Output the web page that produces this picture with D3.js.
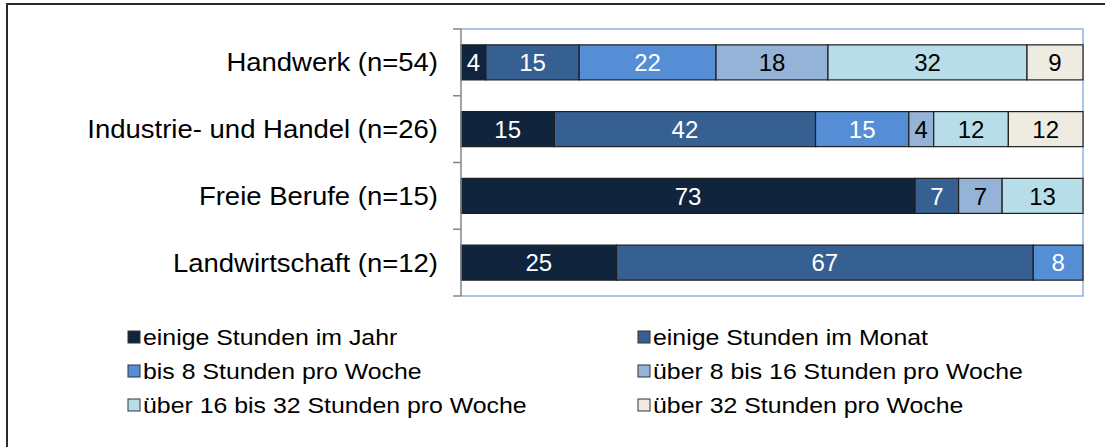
<!DOCTYPE html>
<html>
<head>
<meta charset="utf-8">
<script src="https://cdn.jsdelivr.net/npm/d3@7"></script>
<style>
	body { margin: 0; background: #fff; }
	text { font-family: "Liberation Sans", Arial, sans-serif; }
</style>
</head>
<body>
<script>
	'use strict';

	// categories (top to bottom)
	var categories = ["Handwerk (n=54)", "Industrie- und Handel (n=26)", "Freie Berufe (n=15)", "Landwirtschaft (n=12)"];

	// series, in stacking order
	var seriesNames = [
		"einige Stunden im Jahr",
		"einige Stunden im Monat",
		"bis 8 Stunden pro Woche",
		"über 8 bis 16 Stunden pro Woche",
		"über 16 bis 32 Stunden pro Woche",
		"über 32 Stunden pro Woche"
	];
	var seriesColors = ["#10243e", "#366092", "#558ed5", "#95b3d7", "#b7dee8", "#eeece1"];
	var labelColors  = ["#fff", "#fff", "#fff", "#000", "#000", "#000"];

	// percent values per category, one array per series
	var jahr      = [4, 15, 73, 25];
	var monat     = [15, 42, 7, 67];
	var bis8      = [22, 15, 0, 8];
	var bis16     = [18, 4, 7, 0];
	var bis32     = [32, 12, 13, 0];
	var ueber32   = [9, 12, 0, 0];
	var seriesValues = [jahr, monat, bis8, bis16, bis32, ueber32];

	var width = 1105, height = 447;
	var plot = { left: 461, right: 1083, top: 29, bottom: 296 };

	var svg = d3.select("body").append("svg")
		.attr("width", width)
		.attr("height", height);

	// outer frame
	svg.append("rect")
		.attr("x", 7).attr("y", 4)
		.attr("width", width + 20).attr("height", height + 20)
		.attr("fill", "none")
		.attr("stroke", "#2a2a2a")
		.attr("stroke-width", 2);

	// scales
	var x = d3.scaleLinear().domain([0, 100]).range([plot.left, plot.right]);
	var y = d3.scaleBand().domain(categories).range([plot.top, plot.bottom])
		.paddingInner(0.475).paddingOuter(0.2375);

	// plot area border (light blue top/right/bottom)
	svg.append("path")
		.attr("d", "M" + plot.left + "," + plot.top + "H" + plot.right + "V" + plot.bottom + "H" + plot.left)
		.attr("fill", "none")
		.attr("stroke", "#8db3e2")
		.attr("stroke-width", 1.5);

	// stack data
	var rows = categories.map(function(c, i) {
		var r = { cat: c };
		seriesNames.forEach(function(s, j) { r[s] = seriesValues[j][i]; });
		return r;
	});
	var stacked = d3.stack().keys(seriesNames)(rows);

	var layers = svg.selectAll(".layer")
		.data(stacked)
		.enter().append("g")
		.attr("class", "layer");

	// segments and their value labels
	layers.each(function(layer, li) {
		var segs = layer.filter(function(p) { return p[1] > p[0]; });
		var g = d3.select(this);

		g.selectAll("rect")
			.data(segs)
			.enter().append("rect")
			.attr("x", function(d) { return x(d[0]); })
			.attr("y", function(d) { return y(d.data.cat); })
			.attr("width", function(d) { return x(d[1]) - x(d[0]); })
			.attr("height", y.bandwidth())
			.attr("fill", seriesColors[li])
			.attr("stroke", "#1e1e1e")
			.attr("stroke-width", 1.2);

		g.selectAll("text")
			.data(segs)
			.enter().append("text")
			.attr("x", function(d) { return (x(d[0]) + x(d[1])) / 2; })
			.attr("y", function(d) { return y(d.data.cat) + y.bandwidth() / 2; })
			.attr("dy", "0.36em")
			.attr("text-anchor", "middle")
			.attr("fill", labelColors[li])
			.style("font-size", "24px")
			.text(function(d) { return d[1] - d[0]; });
	});

	// left axis: gray line with ticks at band boundaries
	var axisG = svg.append("g");
	axisG.append("line")
		.attr("x1", plot.left).attr("x2", plot.left)
		.attr("y1", plot.top).attr("y2", plot.bottom)
		.attr("stroke", "#868686").attr("stroke-width", 1.5);
	var step = y.step();
	axisG.selectAll(".tick")
		.data(d3.range(categories.length + 1))
		.enter().append("line")
		.attr("x1", plot.left - 8).attr("x2", plot.left)
		.attr("y1", function(i) { return plot.top + i * step; })
		.attr("y2", function(i) { return plot.top + i * step; })
		.attr("stroke", "#868686").attr("stroke-width", 1.5);

	// category labels
	svg.selectAll(".catLabel")
		.data(categories)
		.enter().append("text")
		.attr("class", "catLabel")
		.attr("text-anchor", "end")
		.attr("transform", function(d) {
			return "translate(438," + (y(d) + y.bandwidth() / 2) + ") scale(1.1,1)";
		})
		.attr("dy", "0.36em")
		.attr("fill", "#000")
		.style("font-size", "25px")
		.text(function(d) { return d; });

	// legend, two columns, three rows
	var legend = svg.append("g");
	var legendCols = [128, 638], legendTop = 337, legendRow = 34;
	var items = legend.selectAll(".item")
		.data(seriesNames)
		.enter().append("g")
		.attr("transform", function(d, i) {
			return "translate(" + legendCols[i % 2] + "," + (legendTop + Math.floor(i / 2) * legendRow) + ")";
		});
	items.append("rect")
		.attr("x", 0).attr("y", -6)
		.attr("width", 12).attr("height", 12)
		.attr("fill", function(d, i) { return seriesColors[i]; })
		.attr("stroke", "#333").attr("stroke-width", 1);
	items.append("text")
		.attr("transform", "translate(15,0) scale(1.13,1)")
		.attr("dy", "0.36em")
		.style("font-size", "22px")
		.text(function(d) { return d; });
</script>
</body>
</html>
